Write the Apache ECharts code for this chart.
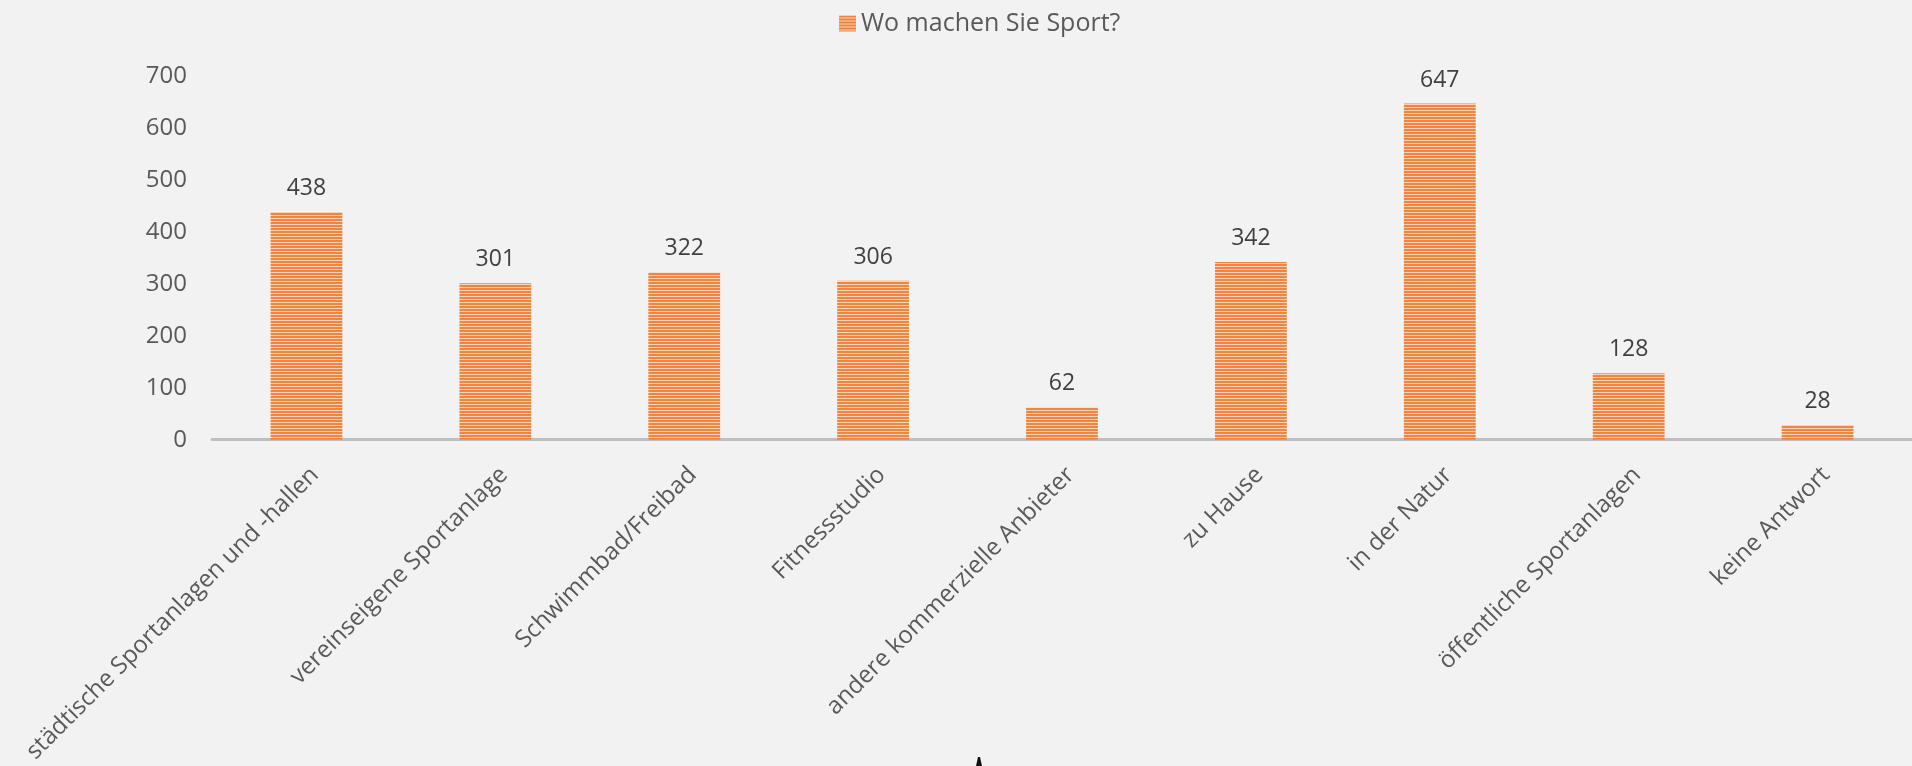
<!DOCTYPE html>
<html>
<head>
<meta charset="utf-8">
<script src="https://cdn.jsdelivr.net/npm/echarts@6/dist/echarts.min.js"></script>
<style>
  html, body { margin: 0; padding: 0; background: #f2f2f2; }
  #chart { width: 1912px; height: 766px; }
</style>
</head>
<body>
<div id="chart"></div>
<script>
const categories = [
  "städtische Sportanlagen und -hallen",
  "vereinseigene Sportanlage",
  "Schwimmbad/Freibad",
  "Fitnessstudio",
  "andere kommerzielle Anbieter",
  "zu Hause",
  "in der Natur",
  "öffentliche Sportanlagen",
  "keine Antwort"
];
const values = [438, 301, 322, 306, 62, 342, 647, 128, 28];
const seriesName = "Wo machen Sie Sport?";

// horizontal stripe pattern like the original fill
function stripes() {
  const c = document.createElement("canvas");
  c.width = 4;
  c.height = 3;
  const ctx = c.getContext("2d");
  ctx.fillStyle = "#ef8541";
  ctx.fillRect(0, 0, 4, 2);
  ctx.fillStyle = "#fbd3b5";
  ctx.fillRect(0, 2, 4, 1);
  return { image: c, repeat: "repeat" };
}

const myChart = echarts.init(document.getElementById("chart"));
const font = "'Open Sans', sans-serif";

myChart.setOption({
  backgroundColor: "#f2f2f2",
  animation: false,
  legend: {
    top: 6,
    left: 834,
    itemWidth: 17,
    itemHeight: 16,
    itemGap: 6,
    icon: "rect",
    textStyle: { color: "#595959", fontSize: 25, fontFamily: font },
    data: [seriesName]
  },
  grid: { left: 212, right: 0, top: 76, bottom: 326 },
  xAxis: {
    type: "category",
    data: categories,
    axisLine: { lineStyle: { color: "#bfbfbf", width: 3 } },
    axisTick: { show: false },
    axisLabel: {
      rotate: 45,
      interval: 0,
      margin: 23,
      verticalAlign: "top",
      color: "#595959",
      fontSize: 24,
      fontFamily: font
    }
  },
  yAxis: {
    type: "value",
    min: 0,
    max: 700,
    interval: 100,
    axisLine: { show: false },
    axisTick: { show: false },
    splitLine: { show: false },
    axisLabel: { color: "#595959", fontSize: 24, fontFamily: font, margin: 25 }
  },
  // small dark mark at the bottom edge of the original picture
  graphic: [{
    type: "polygon",
    shape: { points: [[976, 766], [978, 757], [980, 757], [982, 766]] },
    style: { fill: "#111" }
  }],
  series: [{
    name: seriesName,
    type: "bar",
    barWidth: "38%",
    data: values,
    itemStyle: { color: stripes() },
    label: {
      show: true,
      position: "top",
      distance: 12,
      color: "#404040",
      fontSize: 23,
      fontFamily: font
    }
  }]
});
</script>
</body>
</html>
